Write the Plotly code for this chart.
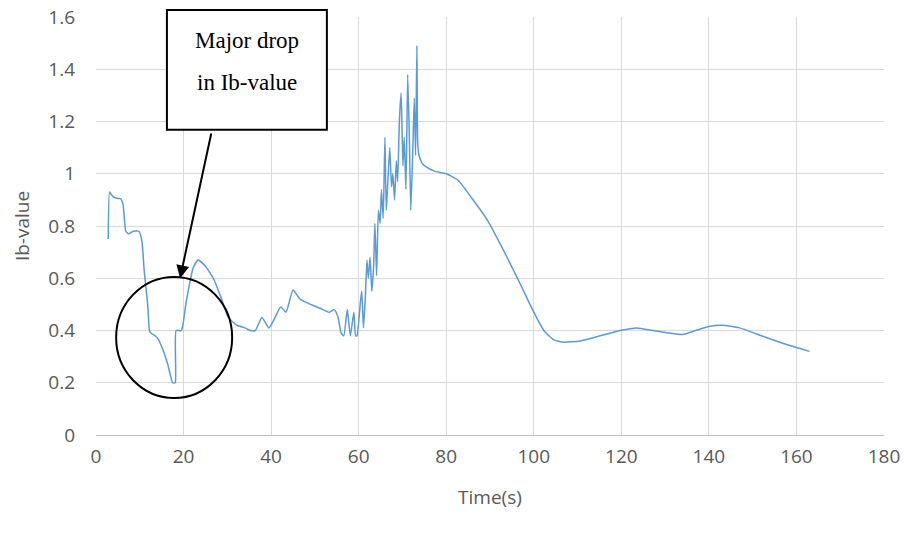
import plotly.graph_objects as go

# Data
time_s = [2.8, 3.1, 3.5, 4.1, 5.0, 5.6, 6.2, 6.8, 7.5, 8.5, 9.8, 10.5, 11.0, 11.8, 12.2,
          12.5, 13.5, 14.1, 15.2, 16.4, 17.5, 18.1, 18.3, 19.5, 20.6, 22.2, 23.3, 24.8,
          26.8, 28.7, 30.2, 32.2, 34.0, 35.2, 36.4, 37.9, 39.5, 40.6, 42.2, 43.4, 45.0,
          46.6, 49.0, 51.2, 53.3, 54.4, 55.3, 56.0, 56.6, 57.4, 58.1, 58.9, 59.3, 59.6,
          60.4, 60.7, 61.1, 61.5, 61.9, 62.2, 62.6, 63.0, 63.4, 63.7, 64.1, 64.5, 64.9,
          65.2, 65.6, 66.0, 66.3, 66.7, 67.1, 67.5, 67.8, 68.2, 68.6, 68.9, 69.3, 69.7,
          70.1, 70.4, 70.8, 71.2, 71.6, 71.9, 72.3, 72.7, 73.0, 73.3, 73.5, 73.8, 74.5,
          75.1, 77.3, 80.0, 82.7, 85.7, 89.5, 93.3, 97.0, 100.0, 102.3, 104.5, 106.8,
          110.6, 115.2, 119.7, 123.5, 127.3, 131.0, 134.0, 137.0, 140.0, 143.0, 147.0,
          152.0, 157.0, 161.0, 163.0]
ib_value = [0.75, 0.93, 0.92, 0.91, 0.905, 0.905, 0.88, 0.78, 0.77, 0.78, 0.78, 0.74, 0.63,
            0.50, 0.40, 0.39, 0.38, 0.37, 0.33, 0.27, 0.20, 0.20, 0.40, 0.40, 0.51, 0.64,
            0.67, 0.65, 0.60, 0.52, 0.45, 0.42, 0.41, 0.40, 0.40, 0.45, 0.41, 0.44, 0.49,
            0.47, 0.555, 0.52, 0.50, 0.485, 0.47, 0.48, 0.45, 0.39, 0.38, 0.48, 0.38,
            0.47, 0.38, 0.38, 0.51, 0.55, 0.41, 0.52, 0.67, 0.60, 0.68, 0.55, 0.64, 0.81,
            0.61, 0.86, 0.81, 0.94, 0.83, 1.14, 0.86, 0.98, 1.10, 0.95, 1.00, 0.90, 1.05,
            0.97, 1.20, 1.31, 1.03, 1.14, 0.94, 1.38, 1.12, 0.86, 1.05, 1.29, 1.07, 1.49,
            1.11, 1.07, 1.04, 1.03, 1.01, 1.00, 0.975, 0.91, 0.82, 0.70, 0.575, 0.47, 0.40,
            0.365, 0.355, 0.36, 0.38, 0.40, 0.41, 0.40, 0.39, 0.385, 0.40, 0.415, 0.42,
            0.41, 0.38, 0.35, 0.33, 0.32]

x_ticks = [0, 20, 40, 60, 80, 100, 120, 140, 160, 180]
y_ticks = [0, 0.2, 0.4, 0.6, 0.8, 1.0, 1.2, 1.4, 1.6]
y_tick_text = ["0", "0.2", "0.4", "0.6", "0.8", "1", "1.2", "1.4", "1.6"]

fig = go.Figure()
fig.add_trace(go.Scatter(x=time_s, y=ib_value, mode="lines",
                         line=dict(color="#5b9bd5", width=1.5, shape="spline", smoothing=0.5),
                         showlegend=False))

tick_font = dict(family="Open Sans, Liberation Sans, sans-serif", size=19, color="#595959")
fig.update_xaxes(range=[0, 180], tickvals=x_ticks, showgrid=True, gridcolor="#d9d9d9",
                 gridwidth=1, showline=True, linecolor="#bfbfbf", linewidth=1,
                 zeroline=False, tickfont=tick_font, ticks="", ticklabelstandoff=4,
                 automargin=False,
                 title=dict(text="Time(s)", font=tick_font, standoff=22))
fig.update_yaxes(range=[0, 1.6], tickvals=y_ticks, ticktext=y_tick_text,
                 showgrid=True, gridcolor="#d9d9d9",
                 gridwidth=1, showline=False, zeroline=False, tickfont=tick_font, ticks="",
                 automargin=False,
                 ticklabelstandoff=20, title=dict(text="Ib-value", font=tick_font, standoff=13))

# Annotation: circle around the drop
fig.add_shape(type="circle", xref="x", yref="y", x0=4.6, x1=31.1, y0=0.142, y1=0.605,
              line=dict(color="black", width=2))
# Text box
fig.add_shape(type="rect", xref="paper", yref="paper", x0=0.090, x1=0.293, y0=0.730, y1=1.017,
              line=dict(color="black", width=2), fillcolor="white", layer="above")
serif = dict(family="Liberation Serif, Times New Roman, serif", size=23, color="black")
fig.add_annotation(xref="paper", yref="paper", x=0.1916, y=0.943, xanchor="center",
                   yanchor="middle", text="Major drop", showarrow=False, font=serif)
fig.add_annotation(xref="paper", yref="paper", x=0.1916, y=0.8425, xanchor="center",
                   yanchor="middle", text="in Ib-value", showarrow=False, font=serif)
# Arrow
fig.add_annotation(x=19.2, y=0.60, ax=26.4, ay=1.16, axref="x", ayref="y", xref="x", yref="y",
                   text="", showarrow=True, arrowhead=2, arrowsize=1.3, arrowwidth=2,
                   arrowcolor="black")

fig.update_layout(width=904, height=533, margin=dict(l=96, r=20, t=17, b=98),
                  plot_bgcolor="white", paper_bgcolor="white")
fig.write_html("out.html")
